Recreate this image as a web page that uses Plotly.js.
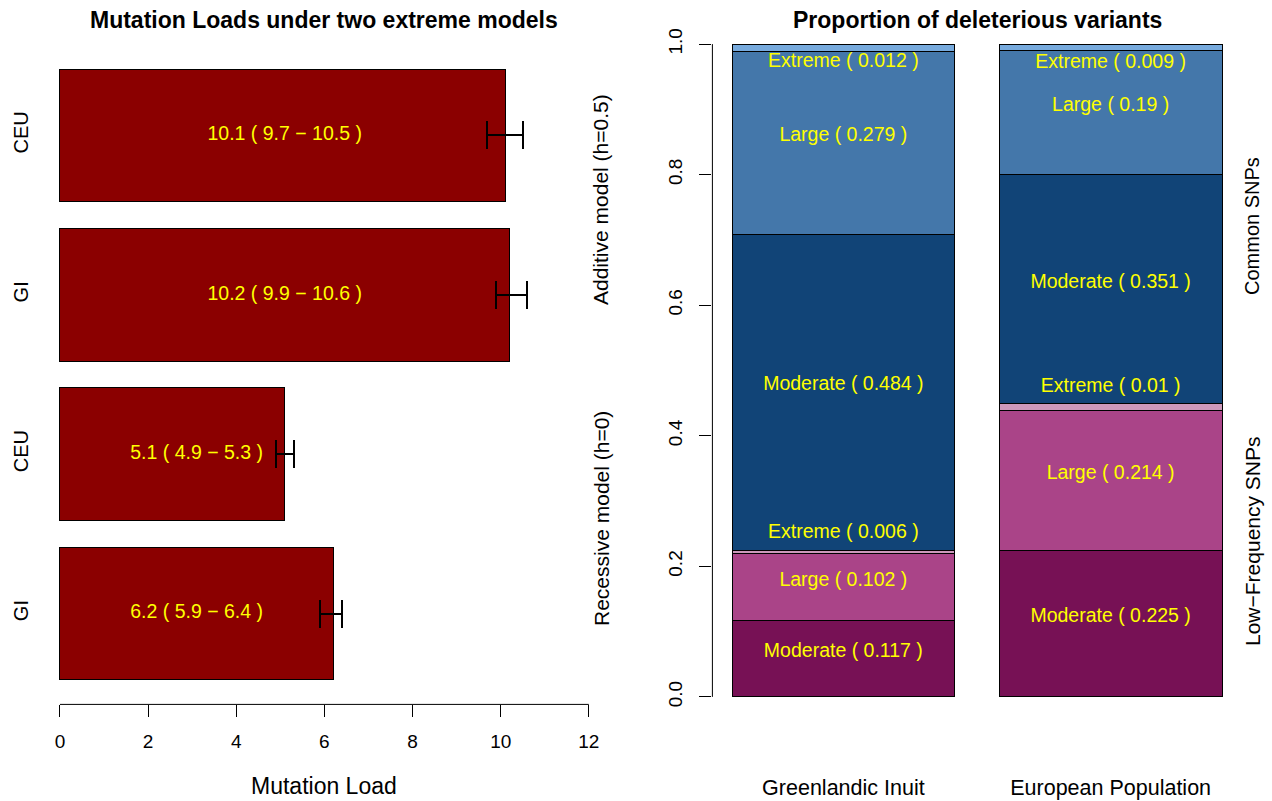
<!DOCTYPE html>
<html>
<head>
<meta charset="utf-8">
<script src="https://cdn.plot.ly/plotly-3.0.1.min.js"></script>
<style>html,body{margin:0;padding:0;background:#fff;}#chart{width:1272px;height:801px;}</style>
</head>
<body>
<div id="chart"></div>
<script>
// ---- Left panel data (bottom to top) ----
const loadPops  = ['GI', 'CEU', 'GI', 'CEU'];
const loadModel = ['Recessive', 'Recessive', 'Additive', 'Additive'];
const loadMean  = [6.2, 5.1, 10.2, 10.1];
const loadLow   = [5.9, 4.9, 9.9, 9.7];
const loadHigh  = [6.4, 5.3, 10.6, 10.5];
const loadTicks = [0, 2, 4, 6, 8, 10, 12];

// ---- Right panel data ----
const populations   = ['Greenlandic Inuit', 'European Population'];
const effectClasses = ['Moderate', 'Large', 'Extreme'];
const giLowFreq = [0.117, 0.102, 0.006];
const giCommon  = [0.484, 0.279, 0.012];
const euLowFreq = [0.225, 0.214, 0.010];
const euCommon  = [0.351, 0.190, 0.009];
const propTicks = [0, 0.2, 0.4, 0.6, 0.8, 1.0];
const propTickText = ['0.0', '0.2', '0.4', '0.6', '0.8', '1.0'];

const lowFreqColors = ['#771155', '#AA4488', '#CC99BB'];
const commonColors  = ['#114477', '#4477AA', '#77AADD'];

const FONT = 'Liberation Sans, Arial, Helvetica, sans-serif';
const YEL = '#FFFF00';

// bar positions like R barplot (width 1, space 0.2)
const loadPos = loadMean.map((_, i) => 0.7 + 1.2 * i);
const popPos = populations.map((_, i) => 0.7 + 1.2 * i);

const traces = [];

traces.push({
  type: 'bar', orientation: 'h', xaxis: 'x', yaxis: 'y',
  x: loadMean, y: loadPos, width: 1,
  marker: {color: '#8B0000', line: {color: '#000', width: 1}},
  error_x: {type: 'data', symmetric: false,
    array: loadMean.map((m, i) => loadHigh[i] - m),
    arrayminus: loadMean.map((m, i) => m - loadLow[i]),
    color: '#000', thickness: 2, width: 14},
  hoverinfo: 'skip', showlegend: false
});

const groupMax = {};
loadModel.forEach((g, i) => { groupMax[g] = Math.max(groupMax[g] || 0, loadMean[i]); });
traces.push({
  type: 'scatter', mode: 'text', xaxis: 'x', yaxis: 'y',
  x: loadModel.map(g => groupMax[g] / 2), y: loadPos,
  text: loadMean.map((m, i) => `${m} ( ${loadLow[i]} \u2212 ${loadHigh[i]} )`),
  textfont: {family: FONT, size: 19.5, color: YEL},
  hoverinfo: 'skip', showlegend: false, cliponaxis: false
});

// stacked segments
const stackGroups = [
  {vals: [giLowFreq, euLowFreq], colors: lowFreqColors, kind: 'low'},
  {vals: [giCommon, euCommon], colors: commonColors, kind: 'common'}
];
const cum = populations.map(() => 0);
const labX = [], labY = [], labT = [];
stackGroups.forEach(grp => {
  effectClasses.forEach((cls, k) => {
    const ys = populations.map((_, p) => grp.vals[p][k]);
    traces.push({
      type: 'bar', xaxis: 'x2', yaxis: 'y2',
      x: popPos, y: ys, width: 1,
      marker: {color: grp.colors[k], line: {color: '#000', width: 1}},
      hoverinfo: 'skip', showlegend: false
    });
    ys.forEach((v, p) => {
      const base = cum[p], top = cum[p] + v;
      let ly;
      if (cls === 'Extreme') ly = grp.kind === 'low' ? top + 0.026 : top - 0.028;
      else ly = (base + top) / 2 + 0.01;
      labX.push(popPos[p]); labY.push(ly); labT.push(`${cls} ( ${v} )`);
      cum[p] = top;
    });
  });
});
traces.push({
  type: 'scatter', mode: 'text', xaxis: 'x2', yaxis: 'y2',
  x: labX, y: labY, text: labT,
  textfont: {family: FONT, size: 19.5, color: YEL},
  hoverinfo: 'skip', showlegend: false, cliponaxis: false
});

const W = 1272, H = 801;
const px = v => v / W, py = v => 1 - v / H;

const layout = {
  width: W, height: H,
  margin: {l: 0, r: 0, t: 0, b: 0, pad: 0},
  paper_bgcolor: '#fff', plot_bgcolor: 'rgba(0,0,0,0)',
  barmode: 'stack', showlegend: false,
  font: {family: FONT, color: '#000'},
  xaxis: {
    domain: [px(38.8), px(610)], range: [-0.48, 12.48], anchor: 'y',
    tickvals: loadTicks, ticks: 'outside', ticklen: 12, tickwidth: 1, tickcolor: '#000',
    showline: false, showgrid: false, zeroline: false,
    tickfont: {family: FONT, size: 19, color: '#000'}, ticklabelstandoff: 8
  },
  yaxis: {
    domain: [py(704.4), py(44.6)], range: [0.016, 4.984], anchor: 'x',
    tickvals: loadPos, ticktext: loadPops, tickangle: -90, ticks: '',
    showline: false, showgrid: false, zeroline: false,
    tickfont: {family: FONT, size: 20, color: '#000'}, ticklabelstandoff: 6
  },
  xaxis2: {
    domain: [px(712.4), px(1241.6)], range: [0.112, 2.488], anchor: 'y2',
    tickvals: popPos, ticktext: populations, ticks: '',
    showline: false, showgrid: false, zeroline: false,
    tickfont: {family: FONT, size: 21.5, color: '#000'}, ticklabelstandoff: 49
  },
  yaxis2: {
    domain: [py(723), py(18)], range: [-0.04, 1.04], anchor: 'x2',
    tickvals: propTicks, ticktext: propTickText, tickangle: -90,
    ticks: 'outside', ticklen: 12, tickwidth: 1, tickcolor: '#000',
    showline: false, showgrid: false, zeroline: false,
    tickfont: {family: FONT, size: 19, color: '#000'}, ticklabelstandoff: 10
  },
  shapes: [
    {type: 'line', xref: 'x', yref: 'y domain', x0: 0, x1: 12, y0: 0, y1: 0, line: {color: '#000', width: 1}},
    {type: 'line', xref: 'x2 domain', yref: 'y2', x0: 0, x1: 0, y0: 0, y1: 1, line: {color: '#000', width: 1}}
  ],
  annotations: [
    {text: '<b>Mutation Loads under two extreme models</b>', xref: 'paper', yref: 'paper', x: px(324), y: py(20), showarrow: false, xanchor: 'center', yanchor: 'middle', font: {family: FONT, size: 23, color: '#000'}},
    {text: '<b>Proportion of deleterious variants</b>', xref: 'paper', yref: 'paper', x: px(977), y: py(20), showarrow: false, xanchor: 'center', yanchor: 'middle', font: {family: FONT, size: 23, color: '#000'}},
    {text: 'Mutation Load', xref: 'paper', yref: 'paper', x: px(324), y: py(786), showarrow: false, xanchor: 'center', yanchor: 'middle', font: {family: FONT, size: 23, color: '#000'}},
    {text: 'Additive model (h=0.5)', xref: 'paper', yref: 'paper', x: px(601), y: py(200), textangle: -90, showarrow: false, xanchor: 'center', yanchor: 'middle', font: {family: FONT, size: 21, color: '#000'}},
    {text: 'Recessive model (h=0)', xref: 'paper', yref: 'paper', x: px(601), y: py(519), textangle: -90, showarrow: false, xanchor: 'center', yanchor: 'middle', font: {family: FONT, size: 21, color: '#000'}},
    {text: 'Common SNPs', xref: 'paper', yref: 'paper', x: px(1252), y: py(226), textangle: -90, showarrow: false, xanchor: 'center', yanchor: 'middle', font: {family: FONT, size: 20, color: '#000'}},
    {text: 'Low\u2212Frequency SNPs', xref: 'paper', yref: 'paper', x: px(1252), y: py(541), textangle: -90, showarrow: false, xanchor: 'center', yanchor: 'middle', font: {family: FONT, size: 21, color: '#000'}}
  ]
};

Plotly.newPlot('chart', traces, layout, {displayModeBar: false, staticPlot: true});
</script>
</body>
</html>
